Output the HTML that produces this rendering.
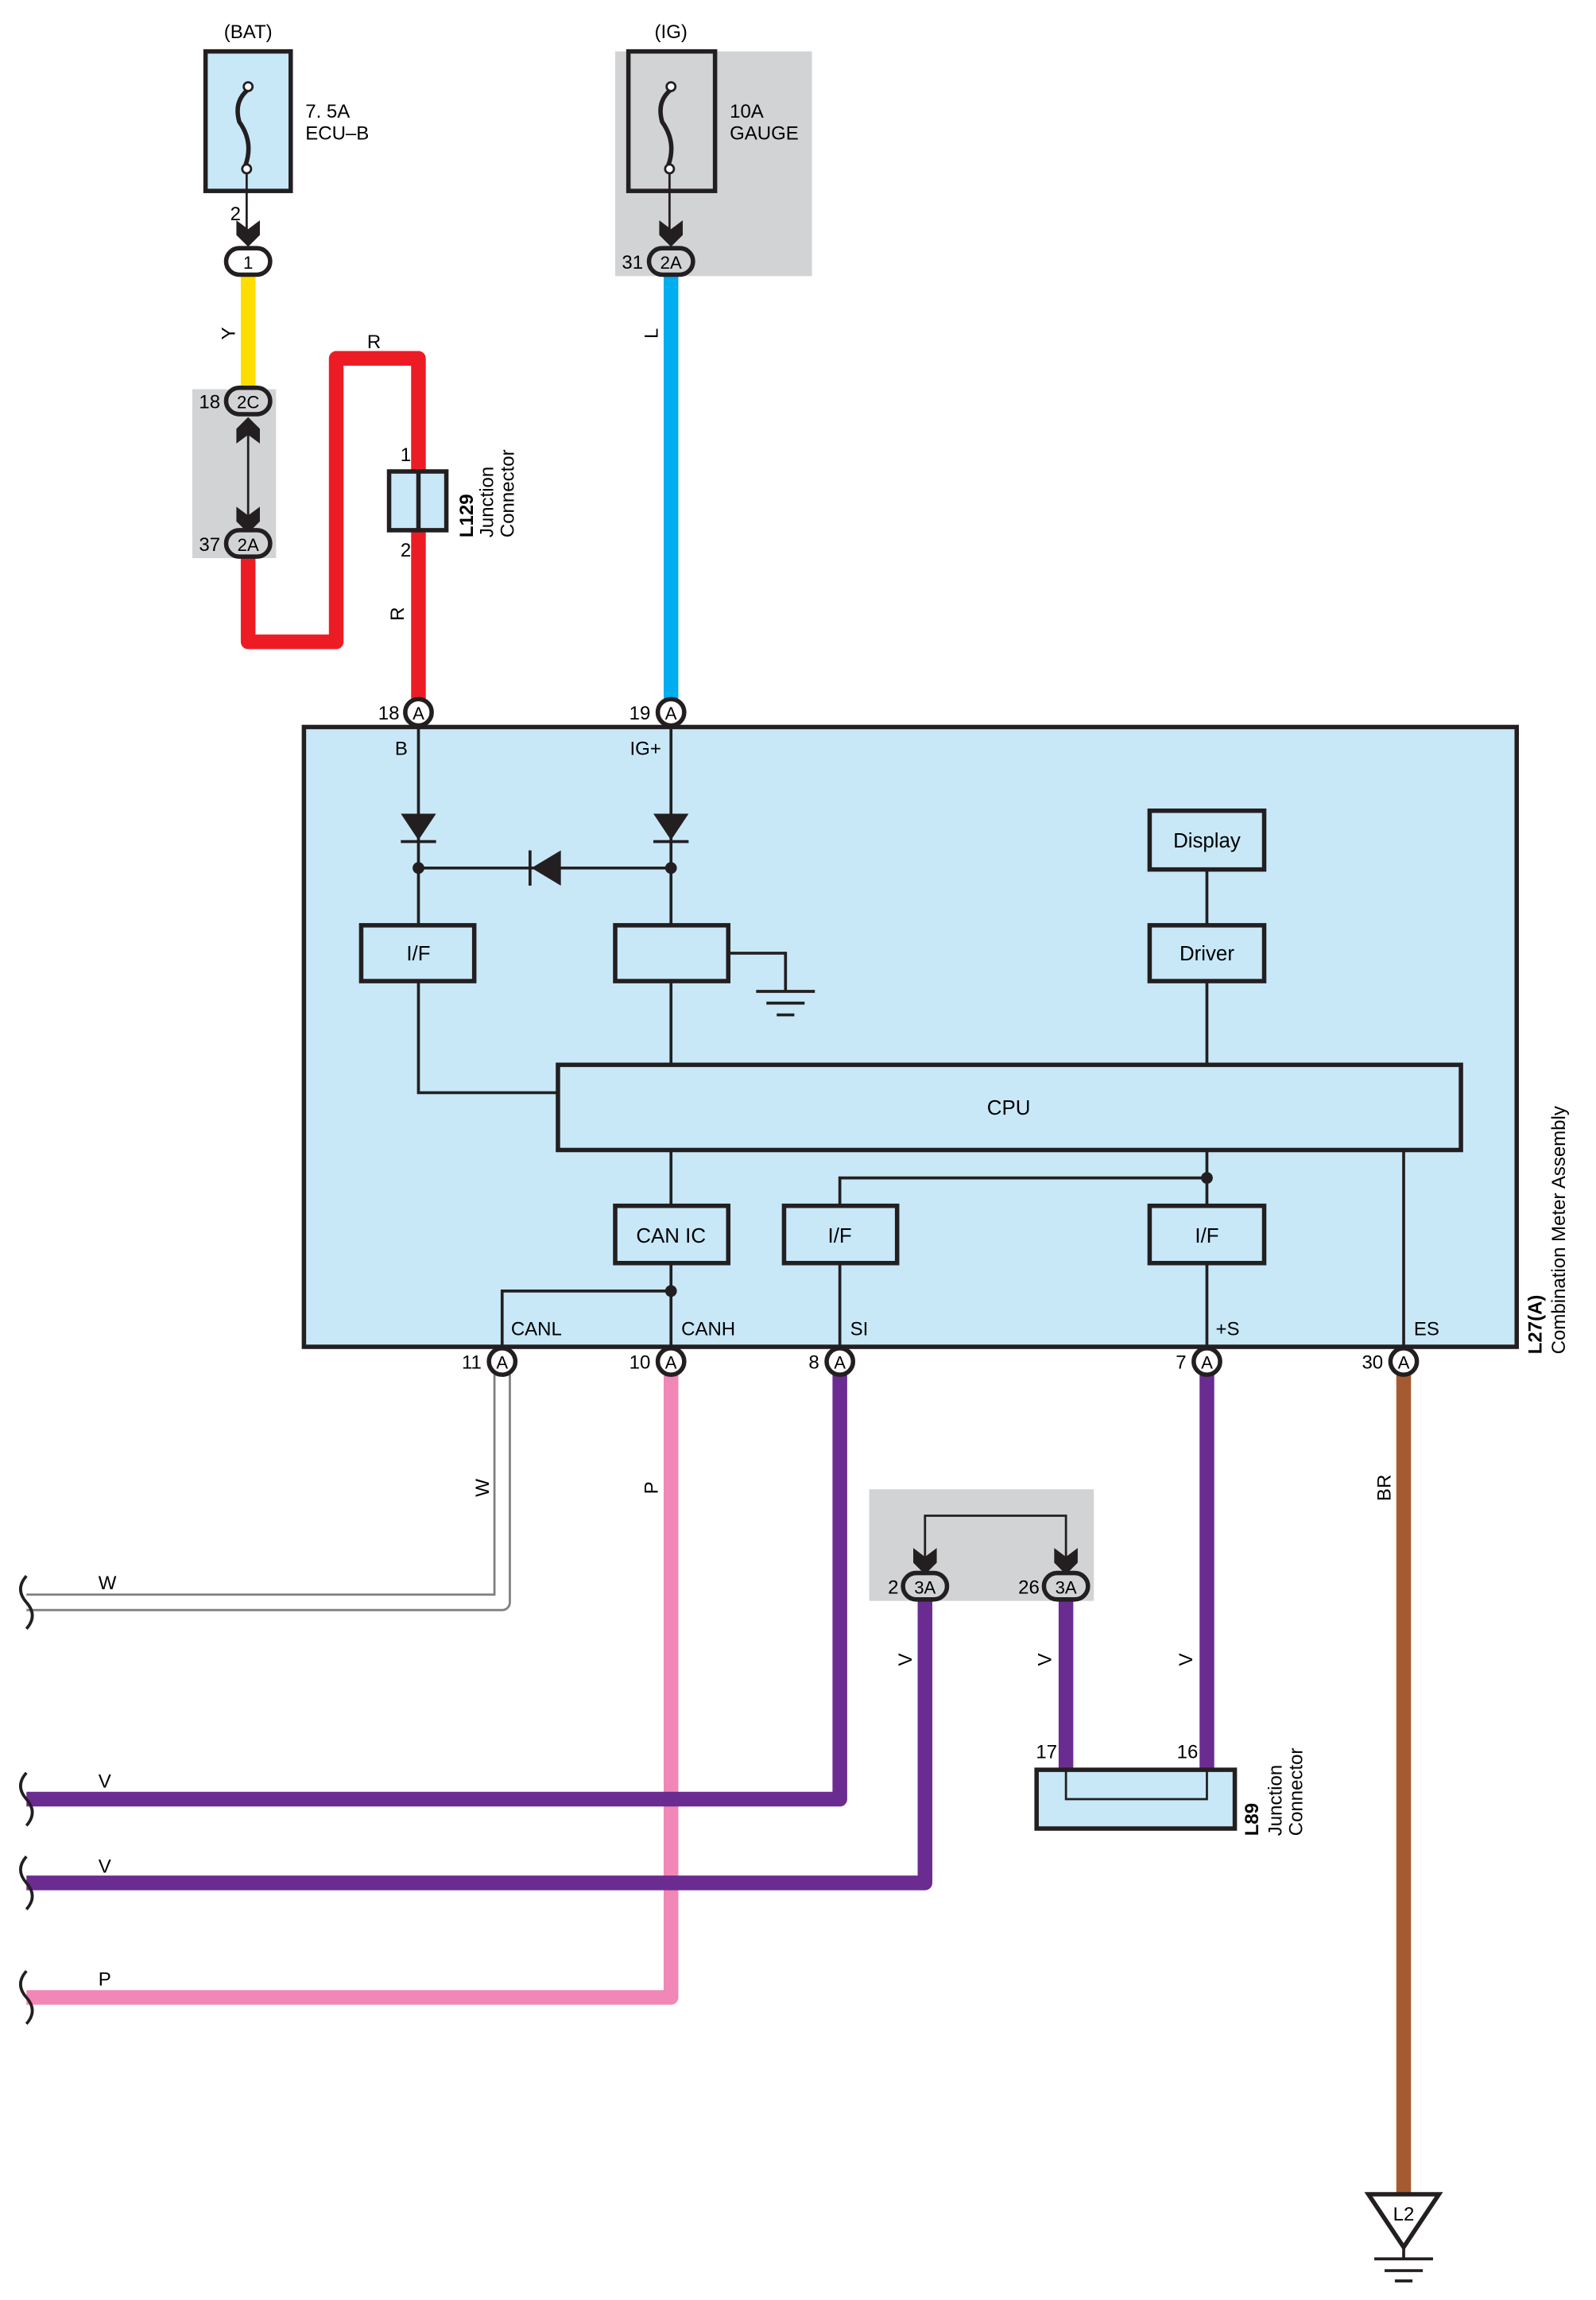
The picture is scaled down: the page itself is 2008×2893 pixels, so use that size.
<!DOCTYPE html>
<html><head><meta charset="utf-8"><style>html,body{margin:0;padding:0;background:#fff}svg{display:block}</style></head>
<body>
<svg width="2008" height="2893" viewBox="0 0 1087 1566" preserveAspectRatio="none" xmlns="http://www.w3.org/2000/svg" font-family="Liberation Sans, sans-serif" font-size="13">
<!-- gray boxes -->
<rect x="419" y="35" width="134" height="153" fill="#d1d3d4"/>
<rect x="131" y="265" width="57" height="115" fill="#d1d3d4"/>
<rect x="592" y="1014" width="153" height="76" fill="#d1d3d4"/>

<!-- wires -->
<g fill="none" stroke-linejoin="round" stroke-linecap="butt">
<line x1="169" y1="187" x2="169" y2="265" stroke="#ffdd00" stroke-width="10"/>
<polyline points="169,380 169,437 229,437 229,244 285,244 285,320" stroke="#ed1c24" stroke-width="10"/>
<line x1="285" y1="361" x2="285" y2="476" stroke="#ed1c24" stroke-width="10"/>
<line x1="457" y1="187" x2="457" y2="476" stroke="#00aeef" stroke-width="10"/>
<polyline points="342,936 342,1091 18,1091" stroke="#808080" stroke-width="12"/>
<polyline points="342,936 342,1091 18,1091" stroke="#fff" stroke-width="9"/>
<polyline points="457,936 457,1360 18,1360" stroke="#f087b6" stroke-width="10"/>
<polyline points="572,936 572,1225 18,1225" stroke="#6b2c91" stroke-width="10"/>
<polyline points="630,1089 630,1282 18,1282" stroke="#6b2c91" stroke-width="10"/>
<line x1="726" y1="1089" x2="726" y2="1206" stroke="#6b2c91" stroke-width="10"/>
<line x1="822" y1="936" x2="822" y2="1206" stroke="#6b2c91" stroke-width="10"/>
<line x1="956" y1="936" x2="956" y2="1494" stroke="#a65a32" stroke-width="10"/>
</g>

<!-- squiggles -->
<g fill="none" stroke="#231f20" stroke-width="2">
<path d="M18,1073 q-8,9 0,18 q8,9 0,18"/>
<path d="M18,1207 q-8,9 0,18 q8,9 0,18"/>
<path d="M18,1264 q-8,9 0,18 q8,9 0,18"/>
<path d="M18,1342 q-8,9 0,18 q8,9 0,18"/>
</g>

<!-- fuses -->
<g stroke="#231f20" stroke-width="3">
<rect x="140" y="35" width="58" height="95" fill="#c8e8f8"/>
<rect x="428" y="35" width="59" height="95" fill="#d1d3d4"/>
</g>
<g fill="none" stroke="#231f20" stroke-width="3">
<path d="M169,61 q-10,8 -6,22 q10,14 4,30"/>
<path d="M457,61 q-10,8 -6,22 q10,14 4,30"/>
</g>
<g fill="#fff" stroke="#231f20" stroke-width="1.5">
<circle cx="169" cy="59" r="3"/><circle cx="168" cy="115" r="3"/>
<circle cx="457" cy="59" r="3"/><circle cx="456" cy="115" r="3"/>
</g>
<g stroke="#231f20" stroke-width="1.5">
<line x1="168" y1="118" x2="168" y2="165"/>
<line x1="456" y1="118" x2="456" y2="165"/>
<line x1="169" y1="290" x2="169" y2="355"/>
<polyline points="630,1062 630,1032 726,1032 726,1062" fill="none"/>
</g>
<!-- chevron arrows -->
<g fill="#231f20">
<path d="M161,150 l8,6 l8,-6 v10 l-8,8 l-8,-8z"/>
<path d="M449,150 l8,6 l8,-6 v10 l-8,8 l-8,-8z"/>
<path d="M161,345 l8,6 l8,-6 v10 l-8,8 l-8,-8z"/>
<path d="M161,302 l8,-6 l8,6 v-10 l-8,-8 l-8,8z"/>
<path d="M622,1054 l8,6 l8,-6 v10 l-8,8 l-8,-8z"/>
<path d="M718,1054 l8,6 l8,-6 v10 l-8,8 l-8,-8z"/>
</g>
<!-- connectors ovals -->
<g stroke="#231f20" stroke-width="3">
<rect x="154" y="169" width="30" height="18" rx="9" fill="#fff"/>
<rect x="442" y="169" width="30" height="18" rx="9" fill="#d1d3d4"/>
<rect x="154" y="264" width="30" height="18" rx="9" fill="#d1d3d4"/>
<rect x="154" y="361" width="30" height="18" rx="9" fill="#d1d3d4"/>
<rect x="615" y="1071" width="30" height="18" rx="9" fill="#d1d3d4"/>
<rect x="711" y="1071" width="30" height="18" rx="9" fill="#d1d3d4"/>
</g>
<g text-anchor="middle" font-size="12">
<text x="169" y="183">1</text><text x="457" y="183">2A</text>
<text x="169" y="278">2C</text><text x="169" y="375">2A</text>
<text x="630" y="1085">3A</text><text x="726" y="1085">3A</text>
</g>

<!-- L129 -->
<rect x="265" y="321" width="39" height="40" fill="#c8e8f8" stroke="#231f20" stroke-width="3"/>
<line x1="285" y1="321" x2="285" y2="361" stroke="#231f20" stroke-width="3"/>

<!-- L89 -->
<rect x="706" y="1205" width="135" height="40" fill="#c8e8f8" stroke="#231f20" stroke-width="3"/>
<polyline points="726,1205 726,1225 822,1225 822,1205" fill="none" stroke="#231f20" stroke-width="1.5"/>

<!-- main box -->
<rect x="207" y="495" width="826" height="422" fill="#c8e8f8" stroke="#231f20" stroke-width="3"/>
<g stroke="#231f20" stroke-width="2" fill="none">
<line x1="285" y1="494" x2="285" y2="630"/>
<line x1="457" y1="494" x2="457" y2="630"/>
<line x1="285" y1="591" x2="457" y2="591"/>
<polyline points="285,668 285,744 380,744"/>
<line x1="457" y1="668" x2="457" y2="725"/>
<line x1="822" y1="592" x2="822" y2="630"/>
<line x1="822" y1="668" x2="822" y2="725"/>
<polyline points="496,649 535,649 535,675"/>
<line x1="515" y1="675" x2="555" y2="675"/>
<line x1="522" y1="683" x2="548" y2="683"/>
<line x1="529" y1="691" x2="541" y2="691"/>
<line x1="457" y1="783" x2="457" y2="821"/>
<line x1="822" y1="783" x2="822" y2="821"/>
<polyline points="822,802 572,802 572,821"/>
<line x1="956" y1="783" x2="956" y2="917"/>
<line x1="457" y1="860" x2="457" y2="917"/>
<polyline points="457,879 342,879 342,917"/>
<line x1="572" y1="860" x2="572" y2="917"/>
<line x1="822" y1="860" x2="822" y2="917"/>
</g>
<g fill="#231f20">
<path d="M273,554 h24 l-12,18z"/><rect x="273" y="572" width="24" height="2"/>
<path d="M445,554 h24 l-12,18z"/><rect x="445" y="572" width="24" height="2"/>
<path d="M382,579 v24 l-20,-12z"/><rect x="360" y="579" width="2" height="24"/>
<circle cx="285" cy="591" r="4"/><circle cx="457" cy="591" r="4"/>
<circle cx="822" cy="802" r="4"/><circle cx="457" cy="879" r="4"/>
</g>
<g stroke="#231f20" stroke-width="3" fill="#c8e8f8">
<rect x="246" y="630" width="77" height="38"/>
<rect x="419" y="630" width="77" height="38"/>
<rect x="783" y="552" width="78" height="40"/>
<rect x="783" y="630" width="78" height="38"/>
<rect x="380" y="725" width="615" height="58"/>
<rect x="419" y="821" width="77" height="39"/>
<rect x="534" y="821" width="77" height="39"/>
<rect x="783" y="821" width="78" height="39"/>
</g>
<g text-anchor="middle" font-size="14">
<text x="285" y="654">I/F</text>
<text x="822" y="577">Display</text>
<text x="822" y="654">Driver</text>
<text x="687" y="759">CPU</text>
<text x="457" y="846">CAN IC</text>
<text x="572" y="846">I/F</text>
<text x="822" y="846">I/F</text>
</g>
<g font-size="13">
<text x="269" y="514">B</text><text x="429" y="514">IG+</text>
<text x="348" y="909">CANL</text><text x="464" y="909">CANH</text>
<text x="579" y="909">SI</text><text x="828" y="909">+S</text><text x="963" y="909">ES</text>
</g>
<!-- pins -->
<g stroke="#231f20" stroke-width="3" fill="#fff">
<circle cx="285" cy="485" r="9"/><circle cx="457" cy="485" r="9"/>
<circle cx="342" cy="927" r="9"/><circle cx="457" cy="927" r="9"/>
<circle cx="572" cy="927" r="9"/><circle cx="822" cy="927" r="9"/>
<circle cx="956" cy="927" r="9"/>
</g>
<g text-anchor="middle" font-size="12">
<text x="285" y="490">A</text><text x="457" y="490">A</text>
<text x="342" y="932">A</text><text x="457" y="932">A</text>
<text x="572" y="932">A</text><text x="822" y="932">A</text><text x="956" y="932">A</text>
</g>
<g text-anchor="end" font-size="13">
<text x="272" y="490">18</text><text x="443" y="490">19</text>
<text x="328" y="932">11</text><text x="443" y="932">10</text>
<text x="558" y="932">8</text><text x="808" y="932">7</text><text x="942" y="932">30</text>
<text x="164" y="150">2</text><text x="438" y="183">31</text>
<text x="150" y="278">18</text><text x="150" y="375">37</text>
<text x="612" y="1085">2</text><text x="708" y="1085">26</text>
<text x="280" y="314">1</text><text x="280" y="379">2</text>
<text x="720" y="1197">17</text><text x="816" y="1197">16</text>
</g>
<g font-size="13">
<text x="169" y="26" text-anchor="middle">(BAT)</text>
<text x="457" y="26" text-anchor="middle">(IG)</text>
<text x="208" y="80">7. 5A</text><text x="208" y="95">ECU–B</text>
<text x="497" y="80">10A</text><text x="497" y="95">GAUGE</text>
<text x="250" y="237">R</text>
<text x="67" y="1082">W</text><text x="67" y="1217">V</text>
<text x="67" y="1275">V</text><text x="67" y="1352">P</text>
</g>
<!-- rotated labels -->
<g font-size="13">
<text transform="translate(160,227) rotate(-90)" text-anchor="middle">Y</text>
<text transform="translate(448,227) rotate(-90)" text-anchor="middle">L</text>
<text transform="translate(275,418) rotate(-90)" text-anchor="middle">R</text>
<text transform="translate(333,1013) rotate(-90)" text-anchor="middle">W</text>
<text transform="translate(448,1013) rotate(-90)" text-anchor="middle">P</text>
<text transform="translate(947,1013) rotate(-90)" text-anchor="middle">BR</text>
<text transform="translate(621,1130) rotate(-90)" text-anchor="middle">V</text>
<text transform="translate(716,1130) rotate(-90)" text-anchor="middle">V</text>
<text transform="translate(812,1130) rotate(-90)" text-anchor="middle">V</text>
<text transform="translate(322,366) rotate(-90)" font-weight="bold">L129</text>
<text transform="translate(336,366) rotate(-90)">Junction</text>
<text transform="translate(350,366) rotate(-90)">Connector</text>
<text transform="translate(857,1250) rotate(-90)" font-weight="bold">L89</text>
<text transform="translate(873,1250) rotate(-90)">Junction</text>
<text transform="translate(887,1250) rotate(-90)">Connector</text>
<text transform="translate(1050,922) rotate(-90)" font-weight="bold">L27(A)</text>
<text transform="translate(1066,922) rotate(-90)">Combination Meter Assembly</text>
</g>
<!-- ground L2 -->
<path d="M932,1494 h48 l-24,36z" fill="#fff" stroke="#231f20" stroke-width="3"/>
<text x="956" y="1512" text-anchor="middle" font-size="13">L2</text>
<g stroke="#231f20" stroke-width="2">
<line x1="956" y1="1530" x2="956" y2="1538"/>
<line x1="936" y1="1538" x2="976" y2="1538"/>
<line x1="943" y1="1546" x2="969" y2="1546"/>
<line x1="950" y1="1553" x2="962" y2="1553"/>
</g>
</svg>
</body></html>
